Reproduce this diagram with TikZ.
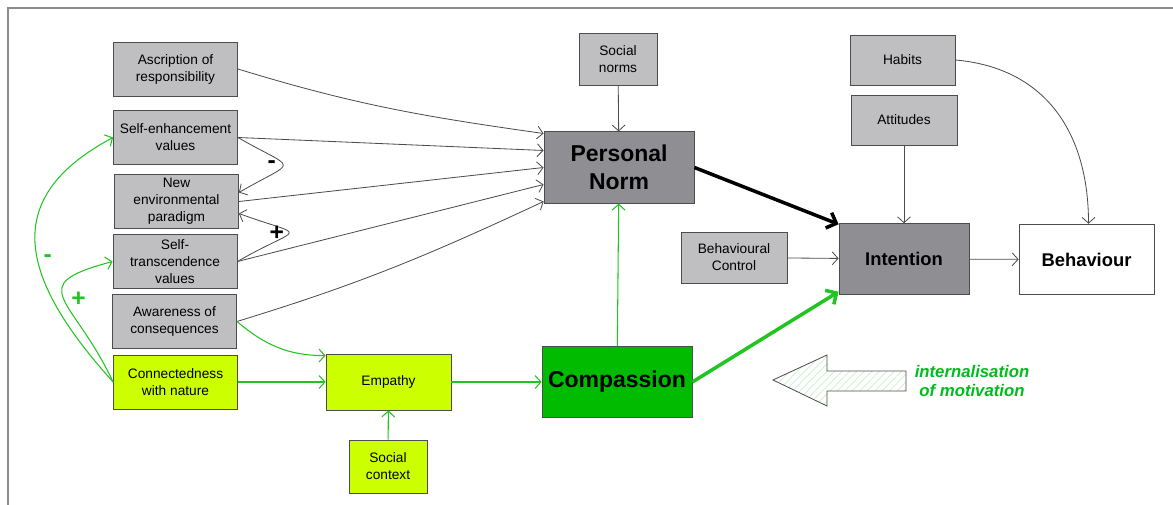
\documentclass[tikz,border=0pt]{standalone}
\usepackage{fontspec}
\setmainfont{Liberation Sans}
\usetikzlibrary{arrows.meta,positioning,calc,patterns.meta}

\definecolor{boxgray}{HTML}{BFBFC1}
\definecolor{darkbox}{HTML}{8F8F93}
\definecolor{limebox}{HTML}{CCFF00}
\definecolor{compgreen}{HTML}{00BB00}
\definecolor{linegreen}{HTML}{22C422}
\definecolor{textgreen}{HTML}{00BB1A}
\definecolor{framegray}{HTML}{8C8C8C}

\begin{document}
\begin{tikzpicture}[
    x=0.03cm, y=0.03cm,
    every node/.style={font=\fontsize{11.7}{14.5}\selectfont},
    box/.style={
      rectangle, draw=black!70, line width=0.7pt, fill=boxgray,
      align=center, inner sep=1pt
    },
    colbox/.style={box, minimum width=3.72cm, minimum height=1.62cm},
    bigbox/.style={
      box, font=\bfseries\fontsize{19.6}{24}\selectfont,
      minimum width=4.5cm, minimum height=2.14cm
    },
    midbox/.style={
      box, font=\bfseries\fontsize{15.7}{19}\selectfont,
      minimum height=2.12cm
    },
    sign/.style={font=\bfseries\fontsize{21}{21}\selectfont, inner sep=1pt},
    arr/.style={-{Straight Barb[length=5pt,width=11pt]}, line width=0.7pt, draw=black!70},
    garr/.style={-{Straight Barb[length=5pt,width=11pt]}, line width=0.9pt, draw=linegreen},
    fatarr/.style={-{Straight Barb[length=7pt,width=14pt]}, line width=3pt}
  ]
    \useasboundingbox (0,0) rectangle (1173,505);
    \draw[framegray, line width=1.5pt] (8,0) -- (8,497) -- (1173,497);

    % Left column
    \node[colbox] (ascr) at (175.5,436) {Ascription of\\responsibility};
    \node[colbox] (selfenh) at (175.5,367.5) {Self-enhancement\\values};
    \node[colbox] (nep) at (176.5,303.5) {New\\environmental\\paradigm};
    \node[colbox] (selftr) at (175,243.5) {Self-\\transcendence\\values};
    \node[colbox] (aware) at (174.5,183.5) {Awareness of\\consequences};
    \node[colbox, fill=limebox] (connect) at (175.5,123) {Connectedness\\with nature};

    % Empathy and compassion
    \node[box, fill=limebox, minimum width=3.75cm, minimum height=1.68cm] (empathy) at (388.5,123) {Empathy};
    \node[box, fill=limebox, minimum width=2.34cm, minimum height=1.59cm] (socctx) at (388,38.5) {Social\\context};
    \node[bigbox, fill=compgreen] (compassion) at (617,123) {Compassion};

    % Personal norm
    \node[bigbox, fill=darkbox] (pnorm) at (619,337.5) {Personal\\Norm};
    \node[box, minimum width=2.34cm, minimum height=1.56cm] (socnorms) at (618,446) {Social\\norms};

    % Intention and behaviour
    \node[box, minimum width=3.15cm, minimum height=1.5cm] (habits) at (902.5,445) {Habits};
    \node[box, minimum width=3.18cm, minimum height=1.5cm] (attitudes) at (904,385) {Attitudes};
    \node[box, minimum width=3.18cm, minimum height=1.53cm] (behctrl) at (734,247.5) {Behavioural\\Control};
    \node[midbox, fill=darkbox, minimum width=3.9cm] (intention) at (904,246) {Intention};
    \node[midbox, fill=white, minimum width=4.05cm] (behaviour) at (1086.5,245.5) {Behaviour};

    % Internalisation arrow
    \draw[black!70, line width=0.7pt, pattern={Lines[angle=45,distance=4.5pt,line width=0.6pt]}, pattern color=linegreen!25]
      (773,125) -- (827,150) -- (827,134) -- (906,134) -- (906,114) -- (827,114) -- (827,99) -- cycle;
    \node[font=\bfseries\itshape\fontsize{14.3}{16.5}\selectfont, text=textgreen, align=center] (intern) at (972,124) {internalisation\\of motivation};

    % Arrows into personal norm
    \draw[arr] (ascr.east) to[out=-17,in=172] ($(pnorm.west)+(0,34)$);
    \draw[arr] (selfenh.east) -- ($(pnorm.west)+(0,17)$);
    \draw[arr] (nep.east) -- (pnorm.west);
    \draw[arr] (selftr.east) -- ($(pnorm.west)+(0,-17)$);
    \draw[arr] (aware.east) to[out=17,in=205] ($(pnorm.west)+(0,-34)$);
    \draw[arr] (socnorms) -- (pnorm);

    % Value links to paradigm
    \draw[arr] (selfenh.east) to[out=-30,in=30,looseness=3.2] node[sign, left=5pt] {-} ($(nep.east)+(0,9)$);
    \draw[arr] (selftr.east) to[out=30,in=-20,looseness=4] node[sign, left=3pt] {+} ($(nep.east)+(0,-12)$);

    % Green links
    \draw[garr] (connect.west) to[out=132,in=208,looseness=1.4] node[sign, text=linegreen, pos=0.45, right=4pt] {-} (selfenh.west);
    \draw[garr] (connect.west) to[out=115,in=195,looseness=2] node[sign, text=linegreen, pos=0.5, right=5pt] {+} (selftr.west);
    \draw[garr] (aware.east) to[out=-40,in=180] ($(empathy.north west)+(0,-2)$);
    \draw[garr] (connect) -- (empathy);
    \draw[garr] (socctx) -- (empathy);
    \draw[garr] (empathy) -- (compassion);
    \draw[garr] (compassion) -- (pnorm);
    \draw[garr, fatarr, line width=3pt] (compassion.east) -- ($(intention.south west)+(0,3)$);

    % Right side
    \draw[arr, fatarr, draw=black] (pnorm.east) -- ($(intention.north west)+(0,-1)$);
    \draw[arr] (behctrl) -- (intention);
    \draw[arr] (attitudes) -- (intention);
    \draw[arr] (intention) -- (behaviour);
    \draw[arr] (habits.east) to[out=-5,in=90,looseness=1.1] ($(behaviour.north)+(2,0)$);

  \end{tikzpicture}
\end{document}
